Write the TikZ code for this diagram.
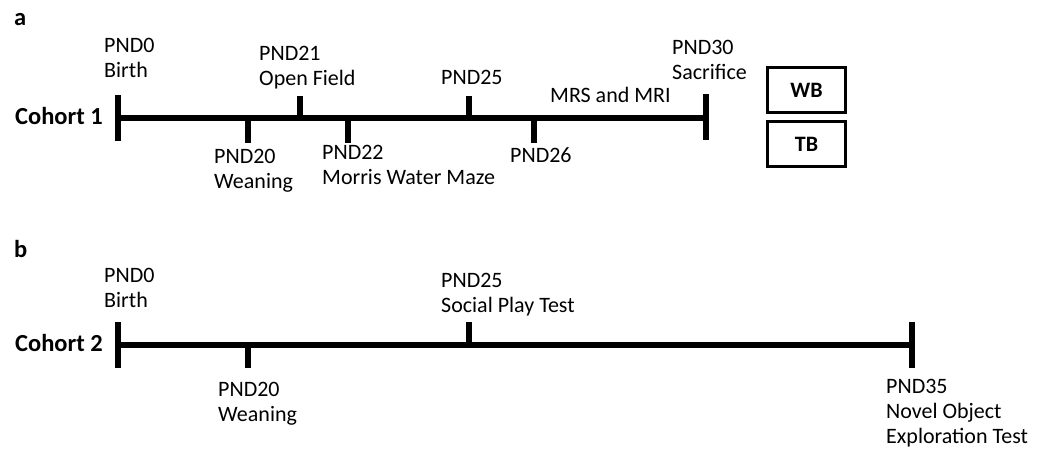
\documentclass[tikz,border=0pt]{standalone}
\usepackage{fontspec}
\setmainfont{Carlito}
\usetikzlibrary{calc}
\tikzset{
    lbl/.style={font=\fontsize{22}{25}\selectfont, inner sep=0pt, align=left, anchor=north west},
    lbls/.style={font=\fontsize{22}{25}\selectfont, inner sep=0pt, anchor=base west},
    hd/.style={font=\fontsize{24.5}{28}\selectfont\bfseries, inner sep=0pt},
    axis/.style={line width=6.5pt},
    blot/.style={draw, line width=2.8pt, minimum width=78pt, minimum height=45pt,
        font=\fontsize{22}{25}\selectfont\bfseries}
}
\begin{document}
\begin{tikzpicture}[x=1pt, y=-1pt]
    \useasboundingbox (0,0) rectangle (1037,450);
    %Panel a
    \node[hd, anchor=base west] (pa) at (14,25) {a};
    \node[hd, anchor=base east] (c1) at (103,124) {Cohort 1};
    \coordinate (s1) at (118,118);
    \coordinate (e1) at (706,118);
    \draw[axis] (s1) -- (e1); %Zeitachse
    \draw[axis] ($(s1)+(0,-23)$) -- ($(s1)+(0,23)$);
    \draw[axis] ($(e1)+(0,-24)$) -- ($(e1)+(0,22)$);
    \foreach \x in {300, 469} {
        \draw[axis] (\x,118) -- (\x,96);
    }%oben
    \foreach \x in {248, 348, 534} {
        \draw[axis] (\x,118) -- (\x,143);
    }%unten
    %Beschriftung
    \node[lbl] (birth1) at (104,38) {PND0\\Birth};
    \node[lbl] (open1) at (259,46) {PND21\\Open Field};
    \node[lbl] (wean1) at (214,149) {PND20\\Weaning};
    \node[lbl] (mwm1) at (322,145) {PND22\\Morris Water Maze};
    \node[lbls] (p25) at (441,84) {PND25};
    \node[lbls] (mrs) at (550,102) {MRS and MRI};
    \node[lbls] (p26) at (510,162) {PND26};
    \node[lbl] (sac) at (672,40) {PND30\\Sacrifice};
    \node[blot] (wb) at (806.5,90) {WB};
    \node[blot] (tb) at (806.5,144) {TB};

    %Panel b
    \node[hd, anchor=base west] (pb) at (14,257) {b};
    \node[hd, anchor=base east] (c2) at (103,351) {Cohort 2};
    \coordinate (s2) at (118,345);
    \coordinate (e2) at (912,345);
    \draw[axis] (s2) -- (e2); %Zeitachse
    \draw[axis] ($(s2)+(0,-23)$) -- ($(s2)+(0,23)$);
    \draw[axis] ($(e2)+(0,-23)$) -- ($(e2)+(0,23)$);
    \draw[axis] (469,345) -- (469,322);
    \draw[axis] (248,345) -- (248,368);
    %Beschriftung
    \node[lbl] (birth2) at (104,268) {PND0\\Birth};
    \node[lbl] (wean2) at (218,382) {PND20\\Weaning};
    \node[lbl] (social) at (441,273) {PND25\\Social Play Test};
    \node[lbl] (novel) at (886,379) {PND35\\Novel Object\\Exploration Test};
\end{tikzpicture}
\end{document}
